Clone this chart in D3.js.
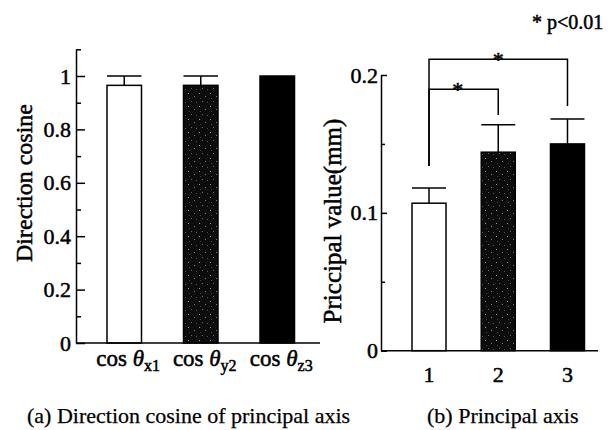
<!DOCTYPE html>
<html><head><meta charset="utf-8">
<script src="https://cdn.jsdelivr.net/npm/d3@7"></script>
<style>
body{margin:0;background:#fff}
svg{display:block}
text{font-family:"Liberation Serif","Times New Roman",serif;fill:#000}
</style>
</head><body>
<svg id="c" width="613" height="430"></svg>
<script>
// ---- data ----
const leftSubscripts = ["x1", "y2", "z3"];
const leftValues = [0.965, 0.965, 1.0];
const leftErrors = [0.035, 0.035, 0];
const leftMinorTicks = [0.1, 0.3, 0.5, 0.7, 0.9, 1.1];
const leftMajorTicks = [0, 0.2, 0.4, 0.6, 0.8, 1];

const rightCategories = ["1", "2", "3"];
const rightValues = [0.107, 0.144, 0.150];
const rightErrors = [0.011, 0.020, 0.018];
const rightMinorTicks = [0.05, 0.15];
const rightMajorTicks = [0, 0.1, 0.2];

const sigPairs = [[0, 1], [0, 2]];
const sigBarY = [0.1896, 0.2114];
const sigLeftLegEnd = [0.134, 0.134];
const sigRightLegEnd = [0.171, 0.1775];

const leftTitle = "Direction cosine";
const rightTitle = "Priccipal value(mm)";
const captionA = "(a) Direction cosine of principal axis";
const captionB = "(b) Principal axis";
const noteText = "* p<0.01";

// ---- drawing ----
const svg = d3.select("#c");
const defs = svg.append("defs");
const pat = defs.append("pattern").attr("id", "stipple")
  .attr("width", 11).attr("height", 13).attr("patternUnits", "userSpaceOnUse");
pat.append("rect").attr("width", 11).attr("height", 13).attr("fill", "#0c0c0c");
[[1,2,"#9a9a9a"],[7,5,"#7a7a7a"],[4,10,"#666"],[9,11,"#555"],[2,7,"#444"]].forEach(p =>
  pat.append("rect").attr("x", p[0]).attr("y", p[1]).attr("width", 1).attr("height", 1).attr("fill", p[2]));
const fills = ["#fff", "url(#stipple)", "#000"];
const SW = 1.5;
const textStroke = sel => sel.attr("stroke", "#000").attr("stroke-width", 0.5);

// Left chart
const xL = d3.scaleBand(leftSubscripts, [76, 325.5]).paddingInner(0.549).paddingOuter(0.405);
const yL = d3.scaleLinear([0, 1.1], [343, 49.3]);

const gL = svg.append("g");
gL.selectAll("rect.bar").data(leftValues).join("rect")
  .attr("x", (d, i) => xL(leftSubscripts[i])).attr("width", xL.bandwidth())
  .attr("y", d => yL(d)).attr("height", d => yL(0) - yL(d))
  .attr("fill", (d, i) => fills[i]).attr("stroke", "#000").attr("stroke-width", SW);
leftValues.forEach((v, i) => {
  if (leftErrors[i] <= 0) return;
  const x0 = xL(leftSubscripts[i]), cx = x0 + xL.bandwidth() / 2;
  gL.append("line").attr("x1", cx).attr("x2", cx).attr("y1", yL(v)).attr("y2", yL(v + leftErrors[i]))
    .attr("stroke", "#000").attr("stroke-width", SW);
  gL.append("line").attr("x1", x0).attr("x2", x0 + xL.bandwidth())
    .attr("y1", yL(v + leftErrors[i])).attr("y2", yL(v + leftErrors[i]))
    .attr("stroke", "#000").attr("stroke-width", SW);
});

const axL = gL.append("g").attr("transform", "translate(76,0)")
  .call(d3.axisLeft(yL).tickValues(leftMajorTicks).tickSizeInner(-9).tickSizeOuter(0).tickPadding(5).tickFormat(d3.format("~g")));
const axLm = gL.append("g").attr("transform", "translate(76,0)")
  .call(d3.axisLeft(yL).tickValues(leftMinorTicks).tickSizeInner(-5).tickSizeOuter(0).tickFormat(""));
axLm.select(".domain").remove();
[axL, axLm].forEach(a => {
  a.selectAll("path,line").attr("stroke", "#000").attr("stroke-width", SW);
});
axL.selectAll("text").attr("font-size", 22).attr("font-family", "Liberation Serif").call(textStroke);

gL.append("line").attr("x1", 76).attr("x2", 320).attr("y1", yL(0)).attr("y2", yL(0))
  .attr("stroke", "#000").attr("stroke-width", SW);

leftSubscripts.forEach((s, i) => {
  const t = gL.append("text").attr("x", xL(s) + xL.bandwidth() / 2 + 4).attr("y", 366)
    .attr("text-anchor", "middle").attr("font-size", 23).call(textStroke);
  t.append("tspan").text("cos ");
  t.append("tspan").attr("font-style", "italic").text("\u03B8");
  t.append("tspan").attr("font-size", 16).attr("dy", 5).text(s);
});

gL.append("text").attr("transform", "translate(32,183) rotate(-90)")
  .attr("text-anchor", "middle").attr("font-size", 24).call(textStroke).text(leftTitle);

// Right chart
const xR = d3.scaleBand(rightCategories, [381, 615.5]).paddingInner(0.509).paddingOuter(0.448);
const yR = d3.scaleLinear([0, 0.2], [350.7, 75]);
const gR = svg.append("g");
gR.selectAll("rect.bar").data(rightValues).join("rect")
  .attr("x", (d, i) => xR(rightCategories[i])).attr("width", xR.bandwidth())
  .attr("y", d => yR(d)).attr("height", d => yR(0) - yR(d))
  .attr("fill", (d, i) => fills[i]).attr("stroke", "#000").attr("stroke-width", SW);
rightValues.forEach((v, i) => {
  const x0 = xR(rightCategories[i]), cx = x0 + xR.bandwidth() / 2;
  gR.append("line").attr("x1", cx).attr("x2", cx).attr("y1", yR(v)).attr("y2", yR(v + rightErrors[i]))
    .attr("stroke", "#000").attr("stroke-width", SW);
  gR.append("line").attr("x1", x0).attr("x2", x0 + xR.bandwidth())
    .attr("y1", yR(v + rightErrors[i])).attr("y2", yR(v + rightErrors[i]))
    .attr("stroke", "#000").attr("stroke-width", SW);
});
const axR = gR.append("g").attr("transform", "translate(381,0)")
  .call(d3.axisLeft(yR).tickValues(rightMajorTicks).tickSizeInner(-6).tickSizeOuter(0).tickPadding(3).tickFormat(d3.format("~g")));
const axRm = gR.append("g").attr("transform", "translate(381,0)")
  .call(d3.axisLeft(yR).tickValues(rightMinorTicks).tickSizeInner(-4).tickSizeOuter(0).tickFormat(""));
axRm.select(".domain").remove();
[axR, axRm].forEach(a => a.selectAll("path,line").attr("stroke", "#000").attr("stroke-width", SW));
axR.selectAll("text").attr("font-size", 22).attr("font-family", "Liberation Serif").call(textStroke);

const axRx = gR.append("g").attr("transform", `translate(0,${yR(0)})`)
  .call(d3.axisBottom(xR).tickSize(0).tickPadding(16));
axRx.select(".domain").remove();
gR.append("line").attr("x1", 381).attr("x2", 598).attr("y1", yR(0)).attr("y2", yR(0))
  .attr("stroke", "#000").attr("stroke-width", SW);
axRx.selectAll("text").attr("font-size", 22).attr("font-family", "Liberation Serif").call(textStroke);

gR.append("text").attr("transform", "translate(341,221) rotate(-90)")
  .attr("text-anchor", "middle").attr("font-size", 25).call(textStroke).text(rightTitle);

// significance brackets
sigPairs.forEach((p, k) => {
  const xa = xR(rightCategories[p[0]]) + xR.bandwidth() / 2;
  const xb = xR(rightCategories[p[1]]) + xR.bandwidth() / 2;
  gR.append("path")
    .attr("d", `M${xa},${yR(sigLeftLegEnd[k])}V${yR(sigBarY[k])}H${xb}V${yR(sigRightLegEnd[k])}`)
    .attr("fill", "none").attr("stroke", "#000").attr("stroke-width", SW);
  gR.append("text").attr("x", (xa + xb) / 2 - (k === 0 ? 6 : 0)).attr("y", yR(sigBarY[k]) + 8)
    .attr("text-anchor", "middle").attr("font-size", 22).call(textStroke).text("*");
});

svg.append("text").attr("x", 532).attr("y", 29).attr("font-size", 20).call(textStroke).text(noteText);

// captions
svg.append("text").attr("x", 27).attr("y", 423).attr("font-size", 22)
  .attr("stroke", "#000").attr("stroke-width", 0.25).text(captionA);
svg.append("text").attr("x", 427).attr("y", 423).attr("font-size", 22)
  .attr("stroke", "#000").attr("stroke-width", 0.25).text(captionB);
</script>
</body></html>
